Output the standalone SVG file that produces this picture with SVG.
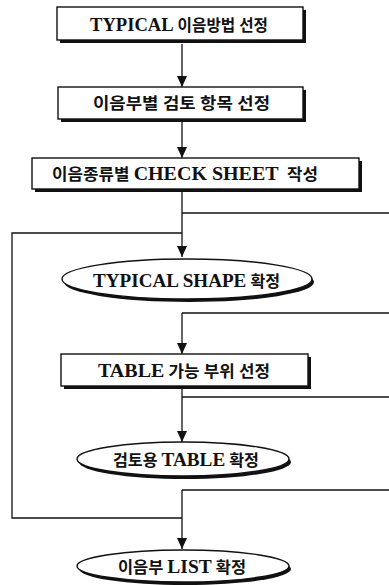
<svg xmlns="http://www.w3.org/2000/svg" width="389" height="585" viewBox="0 0 389 585">
<style>
.box{fill:#fff;stroke:#111;stroke-width:1.4}
.sh{fill:#111}
.t{font-family:"Liberation Serif","Noto Sans CJK KR",serif;font-weight:bold;font-size:16px;fill:#111}
.l{font-size:19px}
.ln{fill:none;stroke:#111;stroke-width:1.3}
</style>
<defs>
<marker id="ad" markerUnits="userSpaceOnUse" markerWidth="11" markerHeight="10" refX="11" refY="5" orient="auto" viewBox="0 0 11 10">
<path d="M0,0 L11,5 L0,10 Z" fill="#111"/>
</marker>
</defs>
<rect width="389" height="585" fill="#fff"/>
<g id="connectors">
<path class="ln" d="M182,44 V87" marker-end="url(#ad)"/>
<path class="ln" d="M182,122 V158" marker-end="url(#ad)"/>
<path class="ln" d="M182,192 V257" marker-end="url(#ad)"/>
<path class="ln" d="M182,213 H389"/>
<path class="ln" d="M182,233 H12 V518 H182"/>
<path class="ln" d="M182,313 H389"/>
<path class="ln" d="M182,313 V354" marker-end="url(#ad)"/>
<path class="ln" d="M182,389 V442" marker-end="url(#ad)"/>
<path class="ln" d="M182,397 H389"/>
<path class="ln" d="M182,490 H389"/>
<path class="ln" d="M182,490 V549" marker-end="url(#ad)"/>
</g>
<g id="n1">
<rect class="sh" x="60" y="10" width="246" height="33"/>
<rect class="box" x="57" y="7" width="246" height="33"/>
<text class="t" x="90" y="31" textLength="178" lengthAdjust="spacingAndGlyphs"><tspan class="l">TYPICAL</tspan> 이음방법 선정</text>
</g>
<g id="n2">
<rect class="sh" x="61" y="90" width="245" height="32"/>
<rect class="box" x="58" y="87" width="245" height="32"/>
<text class="t" x="93" y="109" textLength="177" lengthAdjust="spacingAndGlyphs">이음부별 검토 항목 선정</text>
</g>
<g id="n3">
<rect class="sh" x="35" y="161" width="327" height="31"/>
<rect class="box" x="32" y="158" width="327" height="31"/>
<text class="t" x="52" y="180" textLength="266" lengthAdjust="spacingAndGlyphs" xml:space="preserve">이음종류별 <tspan class="l">CHECK SHEET</tspan>  작성</text>
</g>
<g id="n4">
<ellipse class="sh" cx="189" cy="282" rx="125" ry="20"/>
<ellipse class="box" cx="187" cy="279" rx="125" ry="20"/>
<text class="t" x="93" y="287" textLength="187" lengthAdjust="spacingAndGlyphs"><tspan class="l">TYPICAL SHAPE</tspan> 확정</text>
</g>
<g id="n5">
<rect class="sh" x="64" y="357" width="247" height="32"/>
<rect class="box" x="61" y="354" width="247" height="32"/>
<text class="t" x="98" y="377" textLength="172" lengthAdjust="spacingAndGlyphs"><tspan class="l">TABLE</tspan> 가능 부위 선정</text>
</g>
<g id="n6">
<ellipse class="sh" cx="185" cy="462" rx="106" ry="17"/>
<ellipse class="box" cx="183" cy="459" rx="106" ry="17"/>
<text class="t" x="113" y="466" textLength="146" lengthAdjust="spacingAndGlyphs">검토용 <tspan class="l">TABLE</tspan> 확정</text>
</g>
<g id="n7">
<ellipse class="sh" cx="185" cy="569" rx="106" ry="16"/>
<ellipse class="box" cx="183" cy="566" rx="106" ry="16"/>
<text class="t" x="118" y="573" textLength="128" lengthAdjust="spacingAndGlyphs">이음부 <tspan class="l">LIST</tspan> 확정</text>
</g>
</svg>
